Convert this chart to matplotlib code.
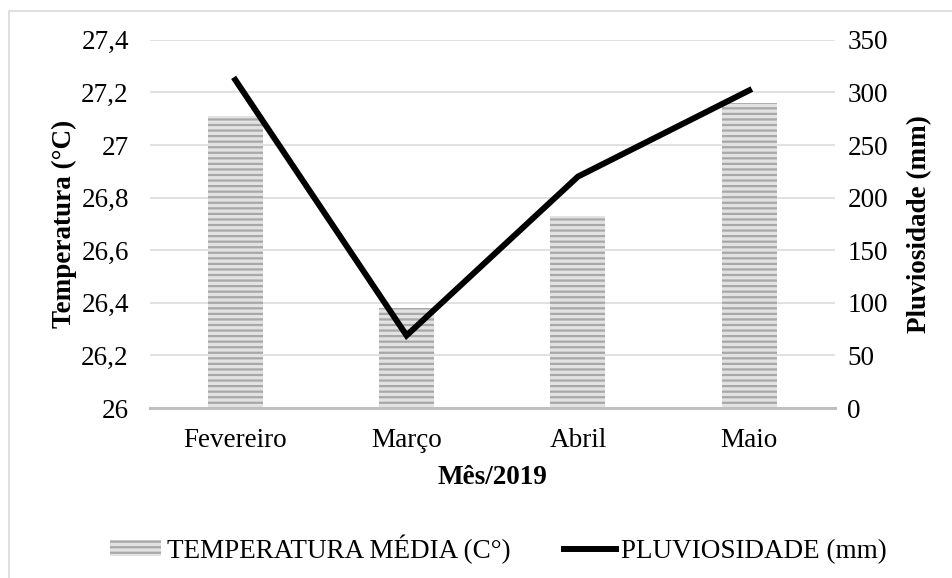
import numpy as np
import matplotlib as mpl
mpl.use('Agg')
import matplotlib.pyplot as plt
from matplotlib.ticker import FuncFormatter, MultipleLocator
from matplotlib.patches import Rectangle

meses = ['Fevereiro', 'Março', 'Abril', 'Maio']
temperatura = [27.11, 26.38, 26.73, 27.16]
pluviosidade = [312, 69, 220, 302]

plt.rcParams['font.family'] = ['Liberation Serif', 'DejaVu Serif']
plt.rcParams['hatch.linewidth'] = 1.6
plt.rcParams['hatch.color'] = '#a8a8a8'

FS = 19.5


def virgula(v, pos):
    # decimal comma, no trailing zeros
    return ('%g' % round(v, 2)).replace('.', ',')


fig = plt.figure(figsize=(9.53, 5.78), dpi=100)
ax = fig.add_axes([0.157, 0.294, 0.719, 0.637])
ax2 = ax.twinx()

x = np.arange(len(meses))
bars = ax.bar(x, np.array(temperatura) - 26, bottom=26, width=0.32,
              color='#e2e2e2', hatch='---', linewidth=0, zorder=2,
              label='TEMPERATURA MÉDIA (C°)')

ax.set_xlim(-0.5, len(meses) - 0.5)
ax.set_ylim(26, 27.4)
ax.yaxis.set_major_locator(MultipleLocator(0.2))
ax.yaxis.set_major_formatter(FuncFormatter(virgula))
ax.grid(axis='y', color='#d9d9d9', linewidth=1.1, zorder=0)
ax.set_axisbelow(True)
ax.set_xticks(x)
ax.set_xticklabels(meses)

line, = ax2.plot(x, pluviosidade, color='black', linewidth=4.3,
                 solid_joinstyle='miter', label='PLUVIOSIDADE (mm)', zorder=3)
ax2.set_ylim(0, 350)
ax2.yaxis.set_major_locator(MultipleLocator(50))

for a in (ax, ax2):
    for s in a.spines.values():
        s.set_visible(False)
    a.tick_params(length=0, labelsize=FS, colors='black')
ax.spines['bottom'].set_visible(True)
ax.spines['bottom'].set_color('#bfbfbf')
ax.spines['bottom'].set_linewidth(2.2)
ax.tick_params(axis='y', pad=15)
ax.tick_params(axis='x', pad=14)
ax2.tick_params(axis='y', pad=9)

ax.set_ylabel('Temperatura (°C)', fontsize=FS, fontweight='bold', labelpad=3)
ax2.set_ylabel('Pluviosidade (mm)', fontsize=FS, fontweight='bold', labelpad=14)
ax.set_xlabel('Mês/2019', fontsize=FS, fontweight='bold', labelpad=9)

fig.legend(handles=[bars, line], loc='center', bbox_to_anchor=(0.523, 0.05),
           ncol=2, frameon=False, fontsize=FS, handlelength=1.9,
           handleheight=0.5, handletextpad=0.2, columnspacing=2.0)

# light frame around the chart area
fig.patches.append(Rectangle((9 / 953, -0.1), 1.2, 1.1 - 11 / 578,
                             transform=fig.transFigure, fill=False,
                             edgecolor='#d9d9d9', linewidth=1.2))

fig.savefig('out.png', dpi=100)
